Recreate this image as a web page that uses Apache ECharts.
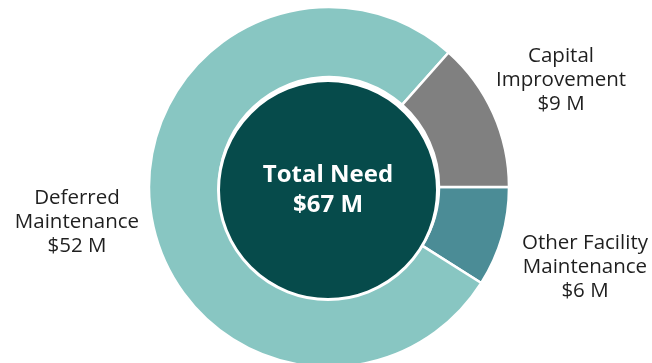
<!DOCTYPE html>
<html>
<head>
<meta charset="utf-8">
<script src="https://cdn.jsdelivr.net/npm/echarts@6/dist/echarts.min.js"></script>
<style>
  html, body { margin: 0; padding: 0; background: #ffffff; }
  #chart { width: 652px; height: 363px; }
</style>
</head>
<body>
<div id="chart"></div>
<script>
// Facility needs, in millions of dollars (clockwise from 3 o'clock)
const categories = ['Other Facility\nMaintenance', 'Deferred\nMaintenance', 'Capital\nImprovement'];
const values = [6, 52, 9];
const colors = ['#4b8c96', '#88c6c2', '#808080'];

const centerTitle = 'Total Need';
const total = values.reduce((a, b) => a + b, 0);

// Where each category label sits (centre of its text block)
const labelSpots = [
  { x: 585, y: 267 },
  { x: 77, y: 222 },
  { x: 561, y: 80 }
];

const chart = echarts.init(document.getElementById('chart'), null, { renderer: 'canvas' });

chart.setOption({
  animation: false,
  backgroundColor: '#ffffff',
  series: [
    {
      type: 'pie',
      center: [329, 187],
      radius: [110, 180],
      startAngle: 0,
      clockwise: true,
      silent: true,
      emphasis: { disabled: true },
      itemStyle: { borderColor: '#ffffff', borderWidth: 2.5 },
      label: {
        show: true,
        position: 'outside',
        formatter: p => p.name + '\n$' + p.value + ' M',
        color: '#1f1f1f',
        fontFamily: 'Open Sans',
        fontSize: 20.5,
        lineHeight: 24,
        align: 'center',
        overflow: 'none'
      },
      labelLine: { show: false },
      labelLayout: p => ({
        x: labelSpots[p.dataIndex].x,
        y: labelSpots[p.dataIndex].y,
        width: 200,
        align: 'center',
        verticalAlign: 'middle'
      }),
      data: categories.map((c, i) => ({
        name: c,
        value: values[i],
        itemStyle: { color: colors[i] }
      }))
    },
    {
      type: 'pie',
      center: [328, 190],
      radius: [0, 109.5],
      silent: true,
      emphasis: { disabled: true },
      itemStyle: { color: '#064b4b', borderColor: '#ffffff', borderWidth: 3 },
      label: {
        show: true,
        position: 'center',
        formatter: p => p.name + '\n$' + p.value + ' M',
        color: '#ffffff',
        fontFamily: 'Open Sans',
        fontWeight: 'bold',
        fontSize: 24,
        lineHeight: 30
      },
      labelLine: { show: false },
      data: [{ name: centerTitle, value: total }]
    }
  ]
});
</script>
</body>
</html>
